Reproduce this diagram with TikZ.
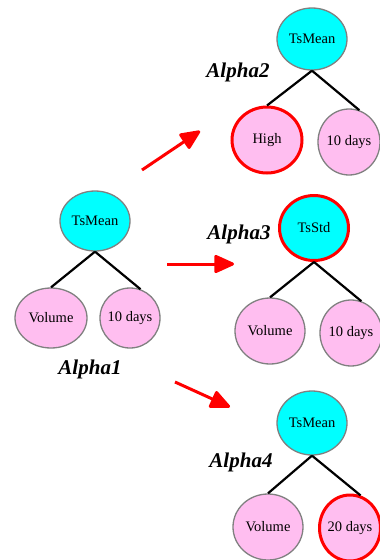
\documentclass[tikz,border=0pt]{standalone}
\usepackage{fontspec}
\setmainfont{Liberation Serif}
\usetikzlibrary{shapes.geometric,arrows.meta}
\definecolor{ciano}{RGB}{0,255,255}
\definecolor{rosa}{RGB}{255,190,240}
\definecolor{borda}{RGB}{128,128,128}
\begin{document}
\begin{tikzpicture}[x=1pt, y=-1pt,
    raiz/.style={ellipse, draw=borda, line width=1.3pt, fill=ciano, inner sep=0pt,
      minimum width=70pt, minimum height=62pt, font=\fontsize{14.5}{17}\selectfont},
    folha/.style={raiz, fill=rosa, minimum height=66pt},
    estreita/.style={minimum width=62pt, inner xsep=-6pt},
    destaque/.style={draw=red, line width=3pt},
    ramo/.style={line width=2.2pt},
    seta/.style={red, line width=3pt, -{Triangle[length=22pt,width=19pt,round]}},
    rotulo/.style={font=\fontsize{21}{25}\selectfont\bfseries\itshape}]
    \useasboundingbox (0,0) rectangle (380,560); % Moldura
    % Alpha1
    \node[raiz, minimum height=60pt] (a1raiz) at (95,221) {TsMean}; % Raiz
    \node[folha, minimum width=72pt, minimum height=60pt] (a1esq) at (51,318) {Volume}; % Folha esquerda
    \node[folha, estreita, minimum width=60pt, minimum height=60pt] (a1dir) at (130,318) {10 days}; % Folha direita
    \node[rotulo] (a1nome) at (90,369) {Alpha1}; % Nome
    \draw[ramo] (a1raiz.south) -- (a1esq.90); % Ramo esquerdo
    \draw[ramo] (a1raiz.south) -- (a1dir.70); % Ramo direito
    % Alpha2
    \node[raiz] (a2raiz) at (312,39) {TsMean}; % Raiz
    \node[folha, destaque] (a2esq) at (267,140) {High}; % Folha trocada
    \node[folha, estreita] (a2dir) at (349,142) {10 days}; % Folha direita
    \node[rotulo] (a2nome) at (238,72) {Alpha2}; % Nome
    \draw[ramo] (a2raiz.south) -- (a2esq.90); % Ramo esquerdo
    \draw[ramo] (a2raiz.south) -- (a2dir.72); % Ramo direito
    % Alpha3
    \node[raiz, destaque, minimum width=69pt, minimum height=65pt] (a3raiz) at (314,228) {TsStd}; % Raiz trocada
    \node[folha] (a3esq) at (270,331) {Volume}; % Folha esquerda
    \node[folha, estreita] (a3dir) at (351,333) {10 days}; % Folha direita
    \node[rotulo] (a3nome) at (239,234) {Alpha3}; % Nome
    \draw[ramo] (a3raiz.south) -- (a3esq.90); % Ramo esquerdo
    \draw[ramo] (a3raiz.south) -- (a3dir.72); % Ramo direito
    % Alpha4
    \node[raiz, minimum height=64pt] (a4raiz) at (312,423) {TsMean}; % Raiz
    \node[folha] (a4esq) at (268,527) {Volume}; % Folha esquerda
    \node[folha, estreita, destaque, minimum width=61pt] (a4dir) at (350,528) {20 days}; % Folha trocada
    \node[rotulo] (a4nome) at (241,462) {Alpha4}; % Nome
    \draw[ramo] (a4raiz.south) -- (a4esq.90); % Ramo esquerdo
    \draw[ramo] (a4raiz.south) -- (a4dir.72); % Ramo direito
    % Setas
    \coordinate (s1a) at (142,170); \coordinate (s1b) at (200,131); % Seta para Alpha2
    \coordinate (s2a) at (167,264); \coordinate (s2b) at (234,264); % Seta para Alpha3
    \coordinate (s3a) at (175,382); \coordinate (s3b) at (230,407); % Seta para Alpha4
    \draw[seta] (s1a) -- (s1b);
    \draw[seta] (s2a) -- (s2b);
    \draw[seta] (s3a) -- (s3b);
\end{tikzpicture}
\end{document}
